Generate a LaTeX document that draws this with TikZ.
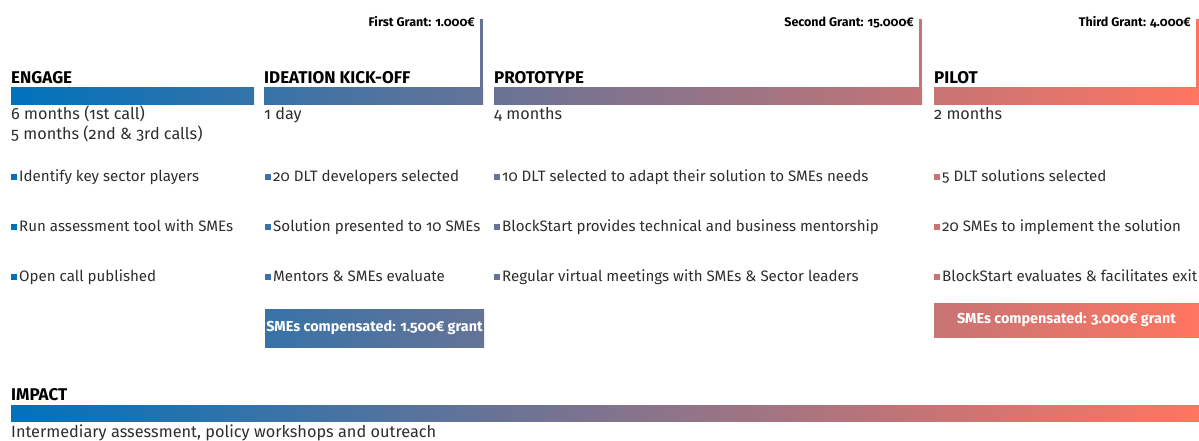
\documentclass[tikz,border=0pt]{standalone}
\usepackage{fontspec}
\setmainfont[Numbers=OldStyle]{Fira Sans}
\usetikzlibrary{positioning}
\definecolor{gl}{RGB}{0,114,187}
\definecolor{gr}{RGB}{255,117,96}
\definecolor{ink}{RGB}{45,45,45}
\newcommand{\sq}[1]{{\color{#1}\rule[1pt]{6pt}{6pt}}\hspace{2pt}}

\begin{document}
\begin{tikzpicture}[x=1pt,y=-1pt,
    bar/.style={rectangle, inner sep=0pt, outer sep=0pt,
        minimum height=17pt, anchor=north west},
    title/.style={anchor=base west, inner sep=0pt, text=black,
        font=\fontsize{17}{20}\selectfont\bfseries},
    dur/.style={anchor=base west, inner sep=0pt, text=ink,
        font=\fontsize{16.2}{19}\selectfont},
    item/.style={anchor=base west, inner sep=0pt, text=ink,
        font=\fontsize{15.1}{18}\selectfont},
    grant/.style={anchor=base east, inner sep=0pt, text=black,
        font=\fontsize{12.5}{14}\selectfont\bfseries},
    prize/.style={rectangle, inner sep=0pt, outer sep=0pt, anchor=north west,
        text=white, font=\fontsize{14.4}{17}\selectfont\bfseries},
    link/.style={line width=3pt}]
    \useasboundingbox (0,0) rectangle (1199,440);

    % bars
    \node[bar, minimum width=243pt, left color=gl, right color=gr!20.5!gl] (engbar) at (11,87) {};
    \node[bar, minimum width=219pt, left color=gr!21.3!gl, right color=gr!39.7!gl] (ideabar) at (264,87) {};
    \node[bar, minimum width=428pt, left color=gr!40.7!gl, right color=gr!76.7!gl] (protobar) at (494,87) {};
    \node[bar, minimum width=265pt, left color=gr!77.7!gl, right color=gr] (pilotbar) at (934,87) {};
    \node[bar, minimum width=1188pt, minimum height=16pt, left color=gl, right color=gr] (impbar) at (11,405) {};

    % titles
    \node[title] (eng) at (11,83) {ENGAGE};
    \node[title] (idea) at (264,83) {IDEATION KICK-OFF};
    \node[title] (proto) at (494,83) {PROTOTYPE};
    \node[title] (pilot) at (934,83) {PILOT};
    \node[title] (imp) at (11,400) {IMPACT};

    % durations
    \node[dur] (engd) at (11,119) {6 months (1st call)};
    \node[dur] (engd2) at (11,139) {5 months (2nd \& 3rd calls)};
    \node[dur] (idead) at (264,119) {1 day};
    \node[dur] (protod) at (494,119) {4 months};
    \node[dur] (pilotd) at (934,119) {2 months};
    \node[dur, font=\fontsize{16.3}{19}\selectfont] (impd) at (11,437) {Intermediary assessment, policy workshops and outreach};

    % grants
    \coordinate (g1) at (481.5,19);
    \coordinate (g2) at (920.5,19);
    \coordinate (g3) at (1197.5,19);
    \node[grant] (g1t) at (475,26) {First Grant: 1.000€};
    \node[grant] (g2t) at (914,26) {Second Grant: 15.000€};
    \node[grant] (g3t) at (1191,26) {Third Grant: 4.000€};
    \draw[link, gr!39.6!gl] (g1) -- (g1 |- ideabar.north);
    \draw[link, gr!76.5!gl] (g2) -- (g2 |- protobar.north);
    \draw[link, gr!99.8!gl] (g3) -- (g3 |- pilotbar.north);

    % activities
    \node[item] (e1) at (11,181) {\sq{gl}Identify key sector players};
    \node[item] (e2) at (11,231) {\sq{gl}Run assessment tool with SMEs};
    \node[item] (e3) at (11,281) {\sq{gl}Open call published};
    \node[item] (i1) at (265,181) {\sq{gr!21.5!gl}20 DLT developers selected};
    \node[item] (i2) at (265,231) {\sq{gr!21.5!gl}Solution presented to 10 SMEs};
    \node[item] (i3) at (265,281) {\sq{gr!21.5!gl}Mentors \& SMEs evaluate};
    \node[item] (p1) at (494,181) {\sq{gr!41!gl}10 DLT selected to adapt their solution to SMEs needs};
    \node[item] (p2) at (494,231) {\sq{gr!41!gl}BlockStart provides technical and business mentorship};
    \node[item] (p3) at (494,281) {\sq{gr!41!gl}Regular virtual meetings with SMEs \& Sector leaders};
    \node[item] (l1) at (934,181) {\sq{gr!78!gl}5 DLT solutions selected};
    \node[item] (l2) at (934,231) {\sq{gr!78!gl}20 SMEs to implement the solution};
    \node[item] (l3) at (934,281) {\sq{gr!78!gl}BlockStart evaluates \& facilitates exit};

    % compensation
    \node[prize, minimum width=219pt, minimum height=38pt, left color=gr!21.4!gl, right color=gr!39.8!gl] (c1) at (265,309) {SMEs compensated: 1.500€ grant};
    \node[prize, minimum width=265pt, minimum height=34pt, left color=gr!77.7!gl, right color=gr] (c2) at (934,303) {SMEs compensated: 3.000€ grant};
\end{tikzpicture}
\end{document}
